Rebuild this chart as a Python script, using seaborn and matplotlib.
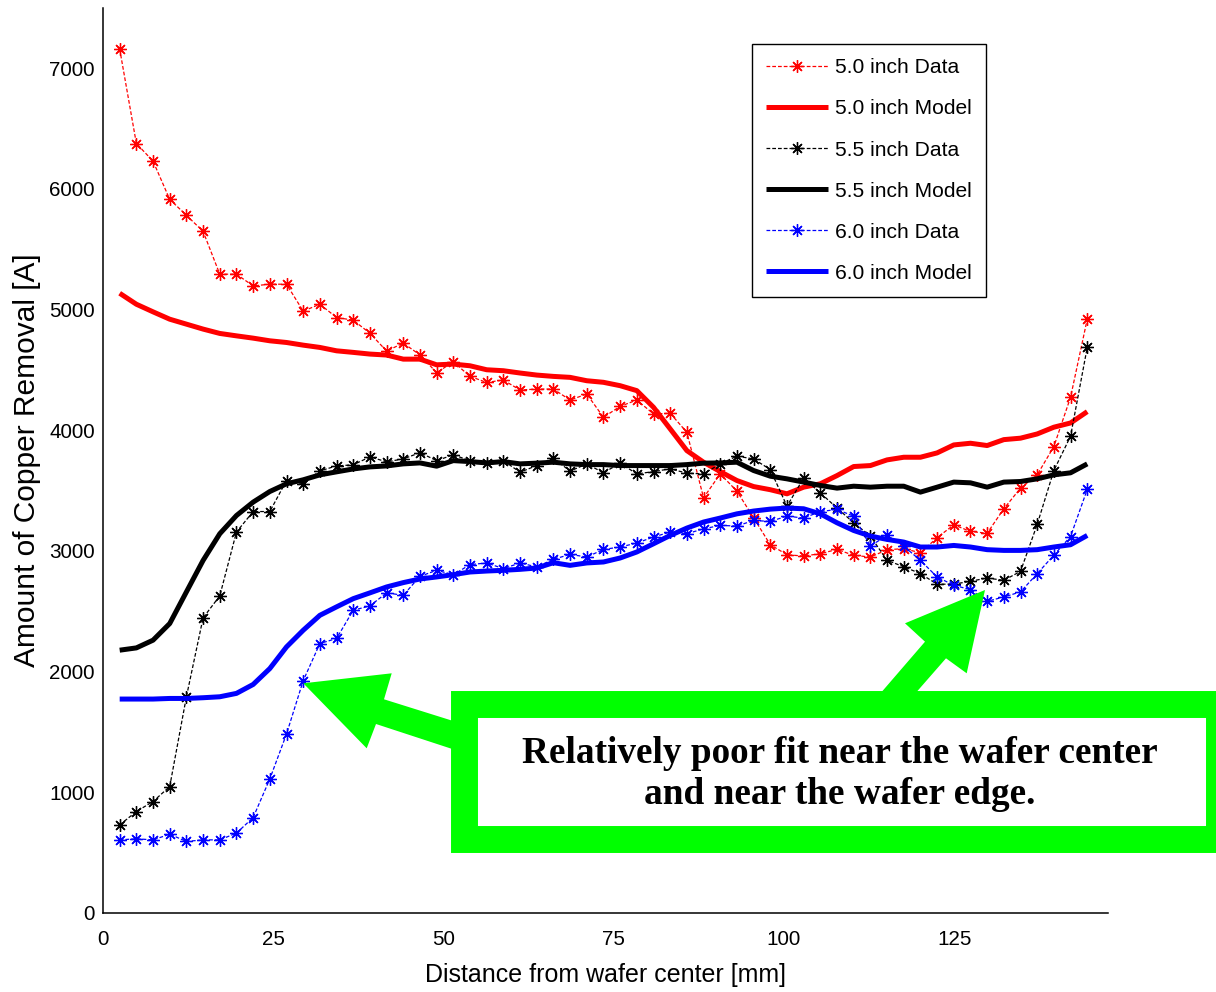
import matplotlib
matplotlib.use("Agg")
import matplotlib.pyplot as plt
import seaborn as sns
from matplotlib import font_manager
from matplotlib.patches import Polygon, Rectangle

# Radial measurement positions [mm]
radius_mm = [2.45, 4.90, 7.35, 9.80, 12.25, 14.70, 17.15, 19.60, 22.05, 24.50,
             26.95, 29.40, 31.85, 34.30, 36.75, 39.20, 41.65, 44.10, 46.55, 49.00,
             51.45, 53.90, 56.35, 58.80, 61.25, 63.70, 66.15, 68.60, 71.05, 73.50,
             75.95, 78.40, 80.85, 83.30, 85.75, 88.20, 90.65, 93.10, 95.55, 98.00,
             100.45, 102.90, 105.35, 107.80, 110.25, 112.70, 115.15, 117.60, 120.05, 122.50,
             124.95, 127.40, 129.85, 132.30, 134.75, 137.20, 139.65, 142.10, 144.55]

# Measured copper removal [A]
data_50 = [7160, 6377, 6231, 5914, 5782, 5649, 5294, 5294, 5197, 5211,
           5211, 4988, 5045, 4935, 4913, 4805, 4657, 4723, 4625, 4478,
           4568, 4447, 4397, 4417, 4334, 4342, 4342, 4251, 4301, 4108,
           4199, 4251, 4136, 4141, 3984, 3441, 3639, 3496, 3275, 3052,
           2969, 2958, 2978, 3013, 2964, 2950, 3010, 3020, 2985, 3110,
           3217, 3162, 3147, 3350, 3521, 3631, 3866, 4274, 4921]
data_55 = [730, 841, 924, 1048, 1792, 2446, 2628, 3157, 3327, 3327,
           3584, 3557, 3664, 3705, 3714, 3780, 3739, 3763, 3815, 3749,
           3797, 3749, 3730, 3749, 3653, 3708, 3769, 3662, 3722, 3648,
           3728, 3639, 3658, 3681, 3645, 3639, 3722, 3786, 3763, 3675,
           3372, 3604, 3482, 3356, 3234, 3124, 2922, 2870, 2812, 2725,
           2725, 2749, 2776, 2757, 2831, 3220, 3667, 3951, 4687]
data_60 = [606, 615, 606, 653, 593, 606, 606, 662, 791, 1111,
           1483, 1925, 2233, 2275, 2509, 2545, 2653, 2633, 2790, 2840,
           2804, 2887, 2901, 2854, 2901, 2868, 2931, 2972, 2950, 3013,
           3033, 3066, 3116, 3157, 3143, 3184, 3212, 3207, 3253, 3245,
           3289, 3273, 3327, 3344, 3289, 3041, 3130, 3040, 2922, 2785,
           2716, 2680, 2583, 2619, 2661, 2812, 2966, 3120, 3510]

# Model predictions [A]
model_50 = [5136, 5045, 4982, 4921, 4880, 4839, 4803, 4783, 4764, 4742,
            4728, 4706, 4687, 4659, 4646, 4632, 4624, 4590, 4590, 4543,
            4549, 4535, 4502, 4494, 4475, 4458, 4447, 4439, 4411, 4398,
            4370, 4329, 4191, 4012, 3832, 3736, 3658, 3584, 3534, 3508,
            3474, 3529, 3557, 3625, 3700, 3708, 3755, 3777, 3777, 3813,
            3879, 3893, 3874, 3923, 3935, 3970, 4026, 4061, 4155]
model_55 = [2178, 2197, 2261, 2399, 2661, 2922, 3143, 3294, 3405, 3493,
            3557, 3590, 3631, 3656, 3680, 3697, 3705, 3722, 3730, 3703,
            3749, 3741, 3730, 3741, 3722, 3728, 3736, 3722, 3716, 3716,
            3708, 3708, 3708, 3708, 3716, 3728, 3730, 3736, 3667, 3620,
            3598, 3571, 3543, 3521, 3537, 3529, 3537, 3537, 3488, 3529,
            3571, 3565, 3529, 3571, 3576, 3598, 3631, 3648, 3722]
model_60 = [1773, 1773, 1773, 1778, 1778, 1784, 1792, 1820, 1894, 2026,
            2205, 2343, 2467, 2537, 2605, 2653, 2702, 2738, 2768, 2785,
            2804, 2826, 2834, 2840, 2848, 2859, 2903, 2881, 2901, 2909,
            2942, 2992, 3060, 3129, 3190, 3240, 3273, 3308, 3331, 3347,
            3356, 3350, 3308, 3234, 3170, 3124, 3096, 3074, 3033, 3033,
            3046, 3033, 3011, 3005, 3005, 3011, 3033, 3052, 3129]

pad_sizes = ["5.0", "5.5", "6.0"]
series_colors = ["#ff0000", "#000000", "#0000ff"]
x_ticks = [0, 25, 50, 75, 100, 125]
y_ticks = [0, 1000, 2000, 3000, 4000, 5000, 6000, 7000]
note_text = "Relatively poor fit near the wafer center\nand near the wafer edge."

sns.set_style("white")
installed = {f.name for f in font_manager.fontManager.ttflist}
narrow = "Liberation Sans Narrow" if "Liberation Sans Narrow" in installed else "Liberation Sans"
k = 1.0 if narrow == "Liberation Sans Narrow" else 0.82
plt.rcParams["font.family"] = [narrow, "DejaVu Sans"]
plt.rcParams.update({
    "text.color": "black",
    "axes.labelcolor": "black",
    "xtick.labelcolor": "black",
    "ytick.labelcolor": "black",
    "legend.labelcolor": "black",
})

W, H = 1216, 992
fig = plt.figure(figsize=(W / 100, H / 100), dpi=100)
fig.patch.set_facecolor("white")


def px(x, y):
    """Pixel position (origin top-left) to figure fraction."""
    return (x / W, 1 - y / H)


ax = fig.add_axes([103 / W, 1 - 913 / H, (1108 - 103) / W, (913 - 8) / H])
ax.set_facecolor("white")

star = (8, 2, 0)
measured = [data_50, data_55, data_60]
modelled = [model_50, model_55, model_60]
for size, color, meas, mod in zip(pad_sizes, series_colors, measured, modelled):
    sns.lineplot(x=radius_mm, y=meas, ax=ax, color=color, linewidth=0.9,
                 linestyle=(0, (3, 1.6)), marker=star, markersize=9,
                 markeredgewidth=0.95, markeredgecolor=color,
                 label=f"{size} inch Data", errorbar=None, sort=False)
    sns.lineplot(x=radius_mm, y=mod, ax=ax, color=color, linewidth=3.6,
                 solid_joinstyle="round", solid_capstyle="butt",
                 label=f"{size} inch Model", errorbar=None, sort=False)

ax.set_xlim(0, 147.6)
ax.set_ylim(0, 7500)
ax.set_xticks(x_ticks)
ax.set_yticks(y_ticks)
ax.set_xticklabels([str(t) for t in x_ticks])
ax.set_yticklabels([str(t) for t in y_ticks])
tick_size = 17.5 if k == 1.0 else 14.9
ax.tick_params(axis="both", direction="in", length=7, width=1.1, color="#555555",
               labelsize=tick_size, labelcolor="black")
ax.tick_params(axis="x", pad=12)
ax.tick_params(axis="y", pad=5.8)
for side in ["top", "right"]:
    ax.spines[side].set_visible(False)
for side in ["left", "bottom"]:
    ax.spines[side].set_color("black")
    ax.spines[side].set_linewidth(1.1)

ax.set_xlabel("Distance from wafer center [mm]", fontsize=22 * k, color="black")
ax.xaxis.set_label_coords(0.5, (913 - 975) / 905)
ax.xaxis.label.set_va("center")
ax.set_ylabel("Amount of Copper Removal [A]", fontsize=21.5, color="black",
              family=["Liberation Sans", "DejaVu Sans"])
ax.yaxis.set_label_coords((27 - 103) / 1005, 0.5)
ax.yaxis.label.set_va("center")

legend_size = 18.4 if k == 1.0 else 15.1
leg = ax.legend(loc="upper left", bbox_to_anchor=px(752, 44),
                bbox_transform=fig.transFigure, borderaxespad=0,
                fontsize=legend_size, frameon=True, fancybox=False,
                edgecolor="black", framealpha=1, borderpad=0.69,
                handlelength=2.94, handletextpad=0.31, labelspacing=1.05)
leg.get_frame().set_linewidth(1.0)
for t in leg.get_texts():
    t.set_color("black")

# Callout: arrows and framed note
green = "#00ff00"
left_arrow = [(303.3, 683.3), (391.7, 673.3), (384, 699.3), (466, 725),
              (466, 753.5), (376, 724), (366.7, 748.3)]
right_arrow = [(985, 590), (966.7, 673.3), (946, 658.3), (905.2, 705),
               (870.4, 705), (925, 641.7), (905, 623.3)]
for shape in (left_arrow, right_arrow):
    fig.patches.append(Polygon([px(x, y) for x, y in shape], closed=True,
                               transform=fig.transFigure, facecolor=green,
                               edgecolor="none", zorder=5))

fig.patches.append(Rectangle(px(463.5, 838.5), (1218.5 - 463.5) / W,
                             (838.5 - 703.5) / H, transform=fig.transFigure,
                             facecolor="white", edgecolor=green, linewidth=19.4,
                             joinstyle="miter", zorder=6))
fig.text(*px(840, 774), note_text, ha="center", va="center", multialignment="center",
         family=["Liberation Serif", "DejaVu Serif"], fontweight="bold",
         fontsize=26.8, linespacing=1.2, color="black", zorder=7)

fig.savefig("out.png", dpi=100, facecolor="white")
